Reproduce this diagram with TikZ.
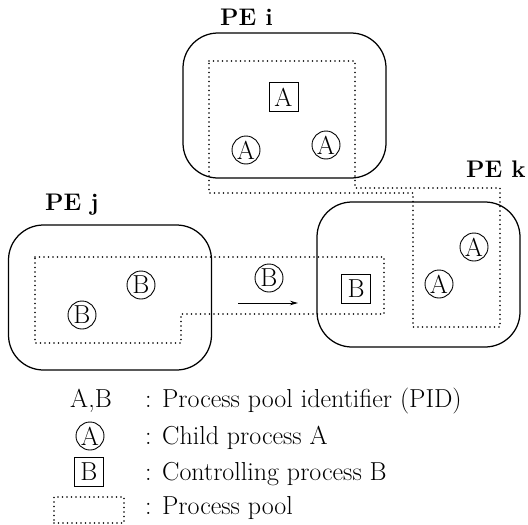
\documentclass[tikz,border=0pt]{standalone}
\usetikzlibrary{arrows.meta}
\begin{document}
\begin{tikzpicture}[x=1pt,y=-1pt,
  font=\fontsize{26}{30}\selectfont,
  pe/.style={draw, line width=1.25pt, rounded corners=35pt, minimum width=203pt, minimum height=145pt, inner sep=0pt},
  pool/.style={line width=1.9pt, dash pattern=on 0pt off 4.5pt, line cap=round},
  proc/.style={circle, draw, line width=0.9pt, minimum size=28pt, inner sep=0pt},
  ctrl/.style={rectangle, draw, line width=0.9pt, minimum size=29pt, inner sep=0pt},
  petitle/.style={font=\fontsize{24}{27}\selectfont\bfseries, inner sep=0pt},
  legtext/.style={inner sep=0pt}
]
\useasboundingbox (0,0) rectangle (528,525);

% processing elements
\node[pe] (pei) at (284.5,105.5) {};
\node[pe] (pej) at (110,297.5) {};
\node[pe] (pek) at (418.5,274.5) {};

\node[petitle, anchor=base west] (ti) at (220,25) {PE i};
\node[petitle, anchor=base west] (tj) at (45,210) {PE j};
\node[petitle, anchor=base west] (tk) at (466,177) {PE k};

% process pools
\draw[pool] (209,61) -- (355,61) -- (355,188) -- (500,188) -- (500,327)
  -- (413,327) -- (413,193) -- (209,193) -- cycle;
\draw[pool] (35,257) -- (384,257) -- (384,314) -- (181,314) -- (181,343)
  -- (35,343) -- cycle;

% processes in PE i
\node[ctrl] (ai) at (283.5,97) {A};
\node[proc] (a1) at (246,150) {A};
\node[proc] (a2) at (326,145) {A};

% processes in PE j
\node[proc] (b1) at (141,285) {B};
\node[proc] (b2) at (82,315) {B};

% migrating process
\node[proc] (bm) at (269,278) {B};
\coordinate (arS) at (238,303);
\coordinate (arE) at (298,303);
\draw[line width=0.9pt, -{Stealth[length=8pt,width=4.5pt]}] (arS) -- (arE);

% processes in PE k
\node[ctrl] (bk) at (356,289) {B};
\node[proc] (a3) at (474,247) {A};
\node[proc] (a4) at (439,284) {A};

% legend
\node[legtext, anchor=base] (l1s) at (91,407) {A,B};
\node[legtext, anchor=base west] (l1t) at (145,407) {: Process pool identifier (PID)};
\node[proc] (l2s) at (90,436) {A};
\node[legtext, anchor=base west] (l2t) at (145,444) {: Child process A};
\node[ctrl] (l3s) at (89,472) {B};
\node[legtext, anchor=base west] (l3t) at (145,480) {: Controlling process B};
\node[pool, draw, minimum width=70pt, minimum height=26pt, inner sep=0pt] (l4s) at (89,510) {};
\node[legtext, anchor=base west] (l4t) at (145,514) {: Process pool};
\end{tikzpicture}
\end{document}
